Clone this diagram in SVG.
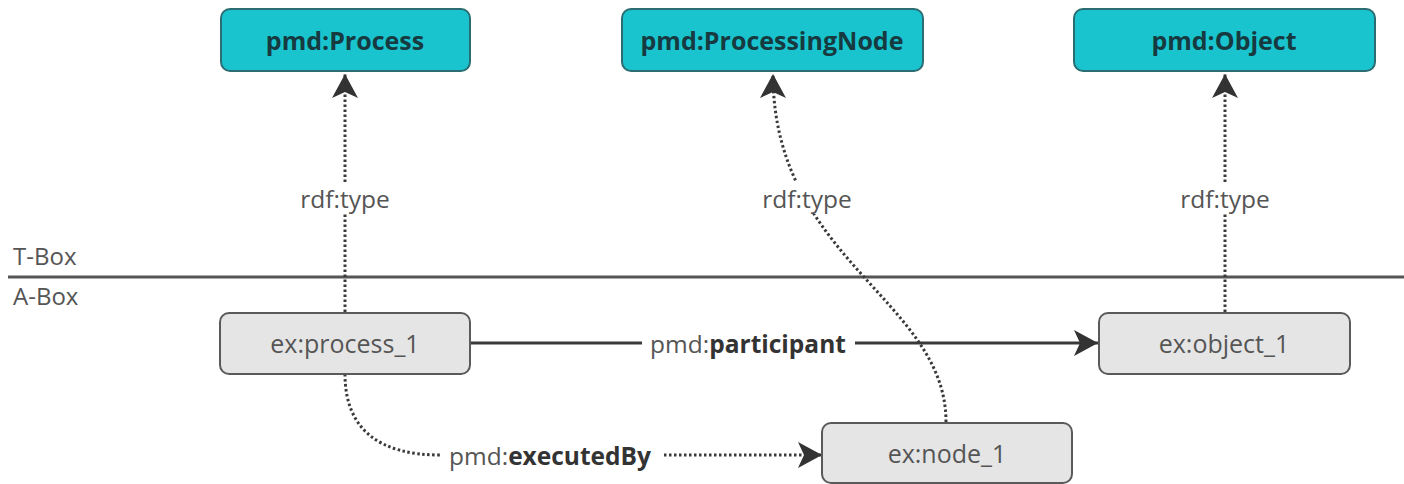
<svg xmlns="http://www.w3.org/2000/svg" width="1404" height="484" viewBox="0 0 1404 484">
  <style>
    .cls rect { fill: #19c4ce; stroke: #2b6d72; stroke-width: 2; }
    .cls text { font-family: "Open Sans", "Liberation Sans", sans-serif; font-weight: bold; font-size: 25px; fill: #163a40; text-anchor: middle; dominant-baseline: central; }
    .ind rect { fill: #e5e5e5; stroke: #5a5a5a; stroke-width: 2; }
    .ind text { font-family: "Open Sans", "Liberation Sans", sans-serif; font-size: 25px; fill: #555; text-anchor: middle; dominant-baseline: central; }
    .lbl { font-family: "Open Sans", "Liberation Sans", sans-serif; font-size: 24.5px; fill: #555; text-anchor: middle; dominant-baseline: central; }
    .lbl tspan.b { font-weight: bold; fill: #333; }
    .box { font-family: "Open Sans", "Liberation Sans", sans-serif; font-size: 24px; fill: #555; }
    .dot { fill: none; stroke: #3a3a3a; stroke-width: 3; stroke-dasharray: 2.5 2.5; }
    .solid { fill: none; stroke: #3a3a3a; stroke-width: 3; }
  </style>
  <defs>
    <marker id="arrow" markerUnits="userSpaceOnUse" markerWidth="28" markerHeight="30" viewBox="0 0 28 30" refX="26" refY="15" orient="auto">
      <path d="M2,2 L26,15 L2,28 L8,15 Z" fill="#333"/>
    </marker>
  </defs>

  <rect width="1404" height="484" fill="#ffffff"/>

  <!-- T-Box / A-Box separator -->
  <line x1="8" y1="277" x2="1404" y2="277" stroke="#555" stroke-width="3"/>
  <text class="box" x="13" y="265">T-Box</text>
  <text class="box" x="13" y="305">A-Box</text>

  <!-- connectors -->
  <g id="connectors">
    <path class="dot" d="M345,312 L345,74" marker-end="url(#arrow)"/>
    <path class="dot" d="M946,422 C946,300 773,260 773,74" marker-end="url(#arrow)"/>
    <path class="dot" d="M1225,312 L1225,74" marker-end="url(#arrow)"/>
    <path class="solid" d="M471,343 L642,343"/>
    <path class="solid" d="M855,343 L1098,343" marker-end="url(#arrow)"/>
    <path class="dot" d="M345,374 C345,430 380,455 440,455"/>
    <path class="dot" d="M664,455 L822,455" marker-end="url(#arrow)"/>
    <rect x="292" y="182" width="106" height="32" fill="#fff"/>
    <rect x="754" y="182" width="106" height="32" fill="#fff"/>
    <rect x="1172" y="182" width="106" height="32" fill="#fff"/>
    <text class="lbl" x="345" y="198">rdf:type</text>
    <text class="lbl" x="807" y="198">rdf:type</text>
    <text class="lbl" x="1225" y="198">rdf:type</text>
    <text class="lbl" x="748" y="343">pmd:<tspan class="b">participant</tspan></text>
    <text class="lbl" x="550" y="455">pmd:<tspan class="b">executedBy</tspan></text>
  </g>

  <g id="pmd-Process" class="cls">
    <rect x="221" y="9" width="249" height="62" rx="9"/>
    <text x="345" y="40">pmd:Process</text>
  </g>
  <g id="pmd-ProcessingNode" class="cls">
    <rect x="622" y="9" width="301" height="62" rx="9"/>
    <text x="772" y="40">pmd:ProcessingNode</text>
  </g>
  <g id="pmd-Object" class="cls">
    <rect x="1074" y="9" width="301" height="62" rx="9"/>
    <text x="1224" y="40">pmd:Object</text>
  </g>

  <g id="ex-process_1" class="ind">
    <rect x="220" y="313" width="250" height="61" rx="9"/>
    <text x="345" y="343">ex:process_1</text>
  </g>
  <g id="ex-object_1" class="ind">
    <rect x="1099" y="313" width="251" height="61" rx="9"/>
    <text x="1224" y="343">ex:object_1</text>
  </g>
  <g id="ex-node_1" class="ind">
    <rect x="822" y="423" width="250" height="60" rx="9"/>
    <text x="947" y="453">ex:node_1</text>
  </g>
</svg>
